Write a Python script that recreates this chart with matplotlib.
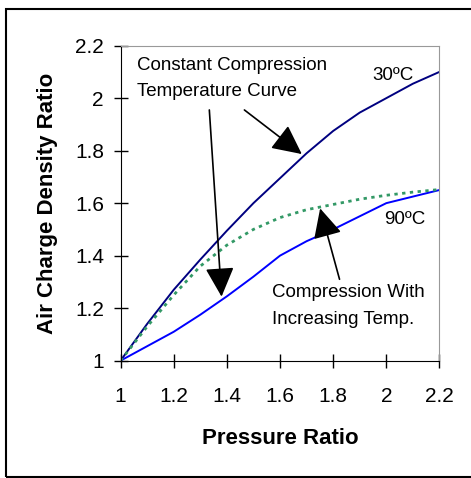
import matplotlib

matplotlib.use("Agg")
import matplotlib.pyplot as plt
from matplotlib.patches import Rectangle

plt.rcParams["font.family"] = ["Liberation Sans", "DejaVu Sans"]

# pressure ratio (x) and air charge density ratio curves
pr = [1.0, 1.1, 1.2, 1.3, 1.4, 1.5, 1.6, 1.7, 1.8, 1.9, 2.0, 2.1, 2.2]
dens_30c = [1.0, 1.14, 1.27, 1.385, 1.495, 1.6, 1.695, 1.79, 1.875, 1.945, 2.0, 2.055, 2.1]
dens_90c = [1.0, 1.055, 1.11, 1.175, 1.245, 1.32, 1.4, 1.455, 1.5, 1.55, 1.6, 1.625, 1.65]
dens_incr = [1.0, 1.13, 1.25, 1.36, 1.44, 1.5, 1.545, 1.575, 1.595, 1.615, 1.63, 1.642, 1.652]

ticks = [1, 1.2, 1.4, 1.6, 1.8, 2, 2.2]
tick_labels = ["1", "1.2", "1.4", "1.6", "1.8", "2", "2.2"]

fig = plt.figure(figsize=(4.71, 4.78), dpi=100)
ax = fig.add_axes([0.256, 0.2455, 0.677, 0.659])

ax.plot(pr, dens_30c, color="#000080", lw=1.4)
ax.plot(pr, dens_90c, color="#0000ff", lw=1.4)
ax.plot(pr, dens_incr, color="#339966", lw=2, ls=(0, (1.2, 1.6)))

ax.set_xlim(1, 2.2)
ax.set_ylim(1, 2.2)
ax.set_xticks(ticks)
ax.set_xticklabels(tick_labels)
ax.set_yticks(ticks)
ax.set_yticklabels(tick_labels)
ax.tick_params(direction="inout", length=10, width=1, labelsize=15)
ax.tick_params(axis="x", pad=14)
ax.tick_params(axis="y", pad=7)
for s in ("top", "right"):
    ax.spines[s].set_color("#999999")
for s in ("left", "bottom"):
    ax.spines[s].set_color("black")

ax.set_xlabel("Pressure Ratio", fontsize=16, fontweight="bold", labelpad=16)
ax.set_ylabel("Air Charge Density Ratio", fontsize=16, fontweight="bold", labelpad=12)

txt = dict(fontsize=13.5, color="black")
ax.text(1.06, 2.126, "Constant Compression", va="center", ha="left", **txt)
ax.text(1.06, 2.025, "Temperature Curve", va="center", ha="left", **txt)
ax.text(2.025, 2.088, "30ºC", va="center", ha="center", **txt)
ax.text(2.07, 1.536, "90ºC", va="center", ha="center", **txt)
ax.text(1.569, 1.259, "Compression With", va="center", ha="left", **txt)
ax.text(1.569, 1.155, "Increasing Temp.", va="center", ha="left", **txt)

arrow = dict(arrowstyle="-|>,head_length=0.65,head_width=0.32", color="black",
             lw=1.2, mutation_scale=28, shrinkA=0, shrinkB=0)
ax.annotate("", xy=(1.682, 1.787), xytext=(1.466, 1.955), arrowprops=arrow)
ax.annotate("", xy=(1.380, 1.244), xytext=(1.334, 1.955), arrowprops=arrow)
ax.annotate("", xy=(1.751, 1.58), xytext=(1.824, 1.31), arrowprops=arrow)

# outer frame
fig.patches.append(Rectangle((6 / 471, 1.5 / 478), 1.2, 1 - 10 / 478,
                             transform=fig.transFigure, fill=False,
                             edgecolor="black", lw=1.5))

fig.savefig("out.png", dpi=100)
